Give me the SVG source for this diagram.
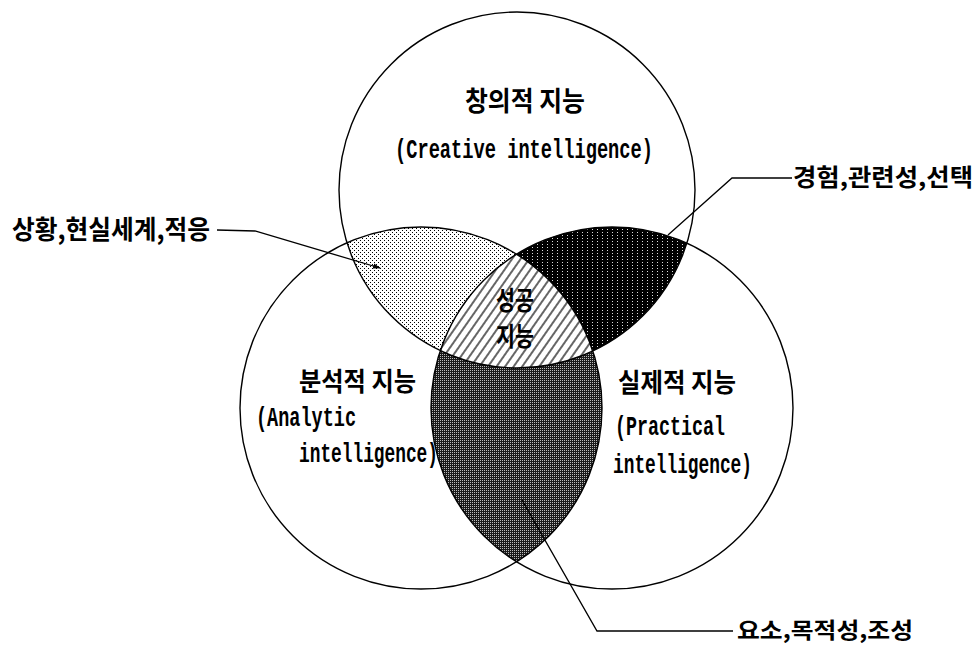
<svg xmlns="http://www.w3.org/2000/svg" width="977" height="646" viewBox="0 0 977 646">
<style>
.ring{fill:none;stroke:#000;stroke-width:1.4}
.ko{font-family:"Noto Sans CJK KR","Noto Sans CJK SC",sans-serif;font-weight:700;fill:#000}
.en{font-family:"Liberation Mono","DejaVu Sans Mono",monospace;font-weight:700;fill:#000}
.lead{fill:none;stroke:#000;stroke-width:1.3}
</style>
<defs>
<clipPath id="cA"><circle cx="517" cy="190" r="178"/></clipPath>
<clipPath id="cB"><circle cx="421" cy="408" r="181"/></clipPath>
<clipPath id="cC"><circle cx="612" cy="408" r="181"/></clipPath>
<pattern id="dots" width="4" height="4" patternUnits="userSpaceOnUse">
<rect width="4" height="4" fill="#fff"/>
<rect x="0" y="0" width="1" height="1" fill="#000"/>
<rect x="2" y="2" width="1" height="1" fill="#000"/>
</pattern>
<pattern id="dark" width="5" height="3" patternUnits="userSpaceOnUse">
<rect width="5" height="3" fill="#000"/>
<rect x="2" y="1" width="1" height="1" fill="#ddd"/>
</pattern>
<pattern id="mesh" width="2" height="2" patternUnits="userSpaceOnUse">
<rect width="2" height="2" fill="#1a1a1a"/>
<rect x="0" y="0" width="1" height="1" fill="#bbb"/>
</pattern>
<pattern id="hatch" width="7" height="7" patternUnits="userSpaceOnUse" patternTransform="rotate(35)">
<rect width="7" height="7" fill="#fff"/>
<line x1="1" y1="0" x2="1" y2="7" stroke="#000" stroke-width="1.2"/>
</pattern>
<marker id="arr" markerWidth="8" markerHeight="6" refX="7" refY="3" orient="auto" markerUnits="userSpaceOnUse">
<path d="M0,0.5 L8,3 L0,5.5 Z" fill="#000"/>
</marker>
</defs>
<rect width="977" height="646" fill="#fff"/>
<g id="regions">
<g clip-path="url(#cA)"><circle cx="421" cy="408" r="181" fill="url(#dots)"/></g>
<g clip-path="url(#cA)"><circle cx="612" cy="408" r="181" fill="url(#dark)"/></g>
<g clip-path="url(#cB)"><circle cx="612" cy="408" r="181" fill="url(#mesh)"/></g>
<g clip-path="url(#cB)"><g clip-path="url(#cA)"><circle cx="612" cy="408" r="181" fill="url(#hatch)"/></g></g>
</g>
<g id="creative">
<circle class="ring" cx="517" cy="190" r="178"/>
<text class="ko" x="465" y="111" font-size="27" textLength="120" lengthAdjust="spacingAndGlyphs">창의적 지능</text>
<text class="en" x="395" y="158" font-size="27" textLength="258" lengthAdjust="spacingAndGlyphs">(Creative intelligence)</text>
</g>
<g id="analytic">
<circle class="ring" cx="421" cy="408" r="181"/>
<text class="ko" x="299" y="391" font-size="26" textLength="117" lengthAdjust="spacingAndGlyphs">분석적 지능</text>
<text class="en" x="256" y="426" font-size="27" textLength="100" lengthAdjust="spacingAndGlyphs">(Analytic</text>
<text class="en" x="299" y="462" font-size="27" textLength="139" lengthAdjust="spacingAndGlyphs">intelligence)</text>
</g>
<g id="practical">
<circle class="ring" cx="612" cy="408" r="181"/>
<text class="ko" x="618" y="392" font-size="26" textLength="118" lengthAdjust="spacingAndGlyphs">실제적 지능</text>
<text class="en" x="615" y="435" font-size="27" textLength="110" lengthAdjust="spacingAndGlyphs">(Practical</text>
<text class="en" x="613" y="473" font-size="27" textLength="139" lengthAdjust="spacingAndGlyphs">intelligence)</text>
</g>
<g id="success">
<text class="ko" x="496" y="310" font-size="26" textLength="38" lengthAdjust="spacingAndGlyphs">성공</text>
<text class="ko" x="496" y="346" font-size="26" textLength="38" lengthAdjust="spacingAndGlyphs">지능</text>
</g>
<g id="connectors">
<polyline class="lead" points="217,230 255,231 380,268" marker-end="url(#arr)"/>
<polyline class="lead" points="792,178 732,178 668,235"/>
<polyline class="lead" points="733,631 597,631 522,500"/>
</g>
<g id="label-context">
<text class="ko" x="12" y="239" font-size="26" textLength="198" lengthAdjust="spacingAndGlyphs">상황,현실세계,적응</text>
</g>
<g id="label-experience">
<text class="ko" x="793" y="186" font-size="24" textLength="180" lengthAdjust="spacingAndGlyphs">경험,관련성,선택</text>
</g>
<g id="label-component">
<text class="ko" x="737" y="638" font-size="22" textLength="176" lengthAdjust="spacingAndGlyphs">요소,목적성,조성</text>
</g>
</svg>
